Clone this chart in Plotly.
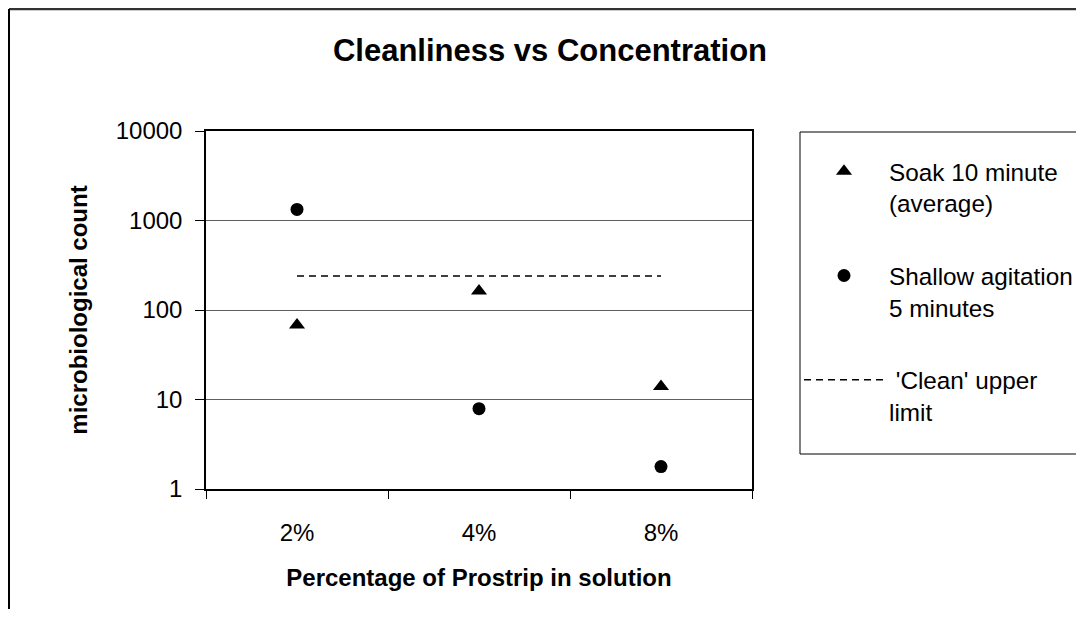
import plotly.graph_objects as go

categories = ["2%", "4%", "8%"]
soak_10min = [68, 163, 14]
shallow_agitation_5min = [1330, 7.9, 1.78]
clean_upper_limit = [240, 240, 240]
y_ticks = [1, 10, 100, 1000, 10000]
y_tick_labels = ["1", "10", "100", "1000", "10000"]

FONT = "Liberation Sans, Arial, sans-serif"

fig = go.Figure()
fig.add_trace(go.Scatter(
    x=categories, y=soak_10min, mode="markers",
    name="Soak 10 minute<br>(average)",
    marker=dict(symbol="triangle-up", size=14, color="black"),
    legendgroup="a"))
fig.add_trace(go.Scatter(
    x=categories, y=shallow_agitation_5min, mode="markers",
    name="Shallow agitation<br>5 minutes",
    marker=dict(symbol="circle", size=13, color="black"),
    legendgroup="b"))
fig.add_trace(go.Scatter(
    x=categories, y=clean_upper_limit, mode="lines",
    name="\u00a0'Clean' upper<br>limit",
    line=dict(color="black", width=1.5, dash="7px,5px"),
    legendgroup="c"))

OFF = 8  # page offset of the figure on screen
W, H = 1084 - OFF, 617 - 2 * OFF
L, T = 206 - OFF, 131 - OFF
R, B = W - (752 - OFF), H - (489 - OFF)
pw, ph = W - L - R, H - T - B

def px(xs):
    return (xs - OFF - L) / pw

def py(ys):
    return (H - B - (ys - OFF)) / ph

fig.update_layout(
    width=W, height=H, autosize=False,
    margin=dict(l=L, r=R, t=T, b=B, autoexpand=False),
    paper_bgcolor="white", plot_bgcolor="white",
    font=dict(family=FONT, size=24, color="black"),
    title=dict(text="<b>Cleanliness vs Concentration</b>", x=(550 - OFF) / W, xanchor="center",
               y=1 - (50 - OFF) / H, yanchor="middle", font=dict(size=31, family=FONT)),
    showlegend=True,
    legend=dict(x=px(799), xanchor="left", y=py(149), yanchor="top",
                bgcolor="rgba(0,0,0,0)", borderwidth=0,
                font=dict(size=24.3, family=FONT),
                traceorder="grouped", tracegroupgap=38, valign="top",
                itemwidth=80),
    xaxis=dict(type="category", tickson="boundaries", ticks="outside", ticklen=8,
               tickcolor="black", showline=True, linecolor="black", linewidth=1.5,
               mirror=True, showgrid=False, range=[-0.5, 2.5],
               ticklabelstandoff=21,
               title=dict(text="<b>Percentage of Prostrip in solution</b>", standoff=25,
                          font=dict(size=24, family=FONT))),
    yaxis=dict(type="log", range=[0, 4], tickvals=y_ticks, ticktext=y_tick_labels,
               ticks="outside", ticklen=9, tickcolor="black",
               showline=True, linecolor="black", linewidth=1.5, mirror=True,
               showgrid=True, gridcolor="#606060", gridwidth=1.2,
               ticklabelstandoff=8, zeroline=False,
               title=dict(text="<b>microbiological count</b>", standoff=21,
                          font=dict(size=24, family=FONT))),
    shapes=[
        dict(type="rect", xref="paper", yref="paper",
             x0=px(800), x1=px(1110), y0=py(454), y1=py(132),
             line=dict(color="black", width=1), fillcolor="rgba(0,0,0,0)", layer="below"),
        dict(type="line", xref="paper", yref="paper",
             x0=px(OFF + 1), x1=px(1110), y0=py(OFF + 1), y1=py(OFF + 1),
             line=dict(color="#333333", width=2.5)),
        dict(type="line", xref="paper", yref="paper",
             x0=px(OFF + 1), x1=px(OFF + 1), y0=py(OFF + 1), y1=py(640),
             line=dict(color="black", width=2)),
    ],
)

fig.write_html("out.html")
